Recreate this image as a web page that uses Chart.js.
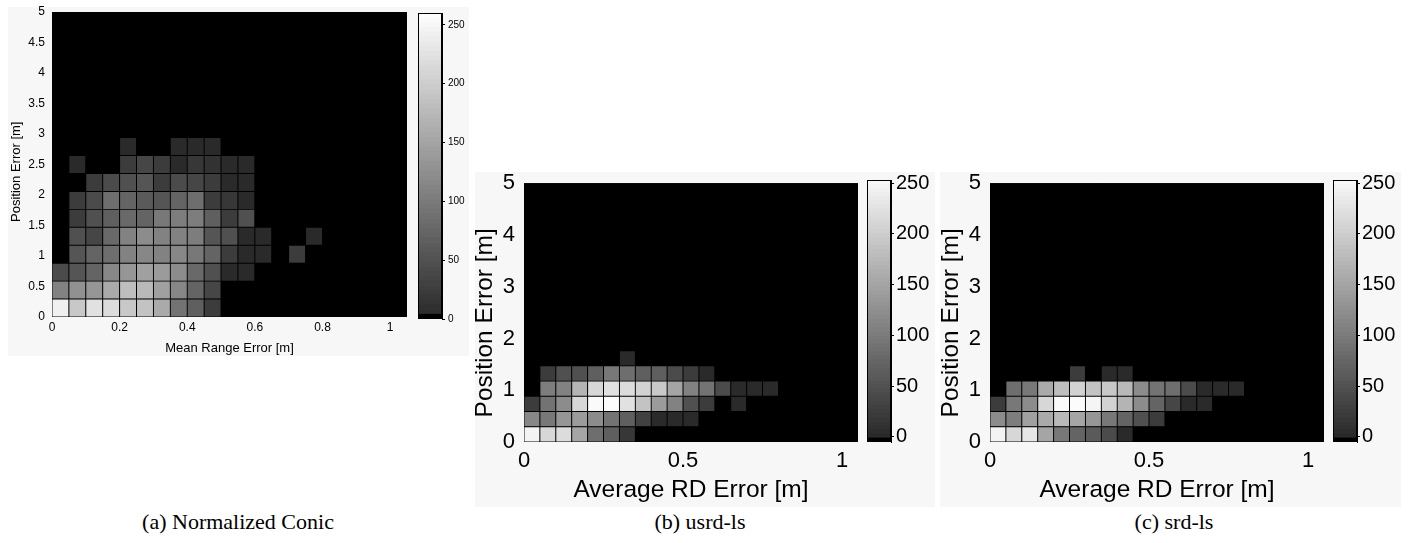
<!DOCTYPE html>
<html>
<head>
<meta charset="utf-8">
<title>Position error histograms</title>
<script src="https://cdn.jsdelivr.net/npm/chart.js@4.4.1/dist/chart.umd.min.js"></script>
<style>
  body { margin:0; width:1413px; height:543px; background:#fff; position:relative; overflow:hidden; }
  .panel { position:absolute; background:#f7f7f7; }
  canvas { position:absolute; }
  .cap { position:absolute; top:509px; width:300px; height:26px; line-height:26px; text-align:center;
         font-family:"Liberation Serif","Times New Roman",serif; font-size:22px; color:#000; white-space:nowrap; }
</style>
</head>
<body>
<div class="panel" style="left:8px;top:7px;width:461px;height:349px"></div>
<div class="panel" style="left:475px;top:172px;width:460px;height:335px"></div>
<div class="panel" style="left:940px;top:172px;width:461px;height:335px"></div>

<canvas id="heatA" width="409" height="370" style="left:8px;top:-8px"></canvas>
<canvas id="barA" width="54" height="346" style="left:418px;top:-7px"></canvas>
<canvas id="heatB" width="402" height="346" style="left:466px;top:161px"></canvas>
<canvas id="barB" width="68" height="302" style="left:867px;top:160px"></canvas>
<canvas id="heatC" width="402" height="346" style="left:932px;top:161px"></canvas>
<canvas id="barC" width="68" height="302" style="left:1333px;top:160px"></canvas>

<div class="cap" style="left:88px">(a) Normalized Conic</div>
<div class="cap" style="left:550px">(b) usrd-ls</div>
<div class="cap" style="left:1024px">(c) srd-ls</div>

<script>
// bins of the x axis (centres, 0.05 m wide)
const errBins = [0.025, 0.075, 0.125, 0.175, 0.225, 0.275, 0.325, 0.375, 0.425, 0.475, 0.525,
                 0.575, 0.625, 0.675, 0.725, 0.775, 0.825, 0.875, 0.925, 0.975, 1.025];
const binW = 0.05;
// position error goes 0..5 m in 17 rows
const posMax = 5;
const posRows = 17;

// counts per cell, row 0 = bottom row, rows not listed are empty
const conicCounts = [
  [242,193,224,218,193,187,157, 91, 67, 24,  0,  0,  0,  0,  0,  0,  0,  0,  0,  0,  0],
  [109,127,133,157,181,175,145,115, 73, 36,  0,  0,  0,  0,  0,  0,  0,  0,  0,  0,  0],
  [ 42, 54, 73,115,133,145,139,121, 79, 48,  3,  3,  0,  0,  0,  0,  0,  0,  0,  0,  0],
  [  0, 54, 73, 85,109,115,109,115, 97, 73, 24,  3,  3,  0, 24,  0,  0,  0,  0,  0,  0],
  [  0, 48, 36, 79,109,121,109,109,103, 54, 48,  3,  3,  0,  0,  3,  0,  0,  0,  0,  0],
  [  0, 24, 48, 67, 79, 73, 97,103,103, 67, 24, 48,  0,  0,  0,  0,  0,  0,  0,  0,  0],
  [  0, 24, 42, 85, 73, 60, 54, 73, 85, 24, 18,  3,  0,  0,  0,  0,  0,  0,  0,  0,  0],
  [  0,  0, 24, 42, 48, 54, 24, 42, 36, 24,  3,  3,  0,  0,  0,  0,  0,  0,  0,  0,  0],
  [  0,  3,  0,  0, 24, 36, 24,  3, 18, 12,  3,  3,  0,  0,  0,  0,  0,  0,  0,  0,  0],
  [  0,  0,  0,  0,  3,  0,  0,  3,  3,  3,  0,  0,  0,  0,  0,  0,  0,  0,  0,  0,  0]
];
const usrdCounts = [
  [245,212,218,151, 85, 67, 18,  0,  0,  0,  0,  0,  0,  0,  0,  0,  0,  0,  0,  0,  0],
  [115, 97,133,139,121, 91, 67, 30,  3,  3,  3,  0,  0,  0,  0,  0,  0,  0,  0,  0,  0],
  [ 24, 91,121,212,254,256,224,187,139,109, 48, 24,  0,  3,  0,  0,  0,  0,  0,  0,  0],
  [  0,103,109,169,212,224,218,206,193,151,109, 91, 42,  3,  3,  3,  0,  0,  0,  0,  0],
  [  0, 24, 48, 48, 67, 97, 85, 67, 67, 42, 24,  3,  0,  0,  0,  0,  0,  0,  0,  0,  0],
  [  0,  0,  0,  0,  0,  0,  3,  0,  0,  0,  0,  0,  0,  0,  0,  0,  0,  0,  0,  0,  0]
];
const srdCounts = [
  [245,212,230,151, 97, 73, 60, 42,  3,  0,  0,  0,  0,  0,  0,  0,  0,  0,  0,  0,  0],
  [121,103,145,157,175,151,133, 97, 73, 48, 24,  0,  0,  0,  0,  0,  0,  0,  0,  0,  0],
  [ 24, 97,121,212,254,256,248,206,169,121, 73, 36,  3,  3,  0,  0,  0,  0,  0,  0,  0],
  [  0, 85, 97,157,181,206,187,193,175,121, 91, 85, 42,  3,  3,  3,  0,  0,  0,  0,  0],
  [  0,  0,  0,  0,  0, 24,  0,  3,  3,  0,  0,  0,  0,  0,  0,  0,  0,  0,  0,  0,  0]
];

// tick labels
const xTicksA = [0, 0.2, 0.4, 0.6, 0.8, 1];
const yTicksA = [0, 0.5, 1, 1.5, 2, 2.5, 3, 3.5, 4, 4.5, 5];
const xTicksBC = [0, 0.5, 1];
const yTicksBC = [0, 1, 2, 3, 4, 5];
const cbarTicks = [0, 50, 100, 150, 200, 250];
const cbarRangeA = [0, 260];
const cbarRangeBC = [-5, 253];
const colorMax = 260;

const fam = '"Liberation Sans", Arial, Helvetica, sans-serif';
Chart.defaults.font.family = fam;
Chart.defaults.color = '#000';

// gray colormap: 0 = black, then dark gray up to white
function grayOf(v) {
  if (v <= 0) return 'rgb(0,0,0)';
  const g = Math.round(40 + 215 * Math.min(v, colorMax) / colorMax);
  return 'rgb(' + g + ',' + g + ',' + g + ')';
}

const blackBack = {
  id: 'blackBack',
  beforeDatasetsDraw(chart) {
    const { ctx, chartArea: a } = chart;
    ctx.save();
    ctx.fillStyle = '#000';
    ctx.fillRect(a.left, a.top, a.right - a.left, a.bottom - a.top);
    ctx.restore();
  }
};

const frame = {
  id: 'frame',
  afterDatasetsDraw(chart) {
    const { ctx, chartArea: a } = chart;
    ctx.save();
    ctx.strokeStyle = '#000';
    ctx.lineWidth = 1;
    ctx.strokeRect(Math.round(a.left) + 0.5, Math.round(a.top) + 0.5,
                   Math.round(a.right - a.left) - 1, Math.round(a.bottom - a.top) - 1);
    ctx.restore();
  }
};

function fixTicks(list) {
  return s => { s.ticks = list.map(v => ({ value: v })); };
}

function makeHeat(id, counts, cfg) {
  const rowH = posMax / posRows;
  const datasets = [];
  for (let r = 0; r < posRows; r++) {
    const row = counts[r] || [];
    datasets.push({
      xAxisID: 'x',
      yAxisID: 'y',
      data: errBins.map(() => [r * rowH, (r + 1) * rowH]),
      backgroundColor: errBins.map((b, c) => grayOf(row[c] || 0)),
      borderColor: '#000',
      borderWidth: cfg.border,
      borderSkipped: false,
      grouped: false,
      barPercentage: 1,
      categoryPercentage: 1
    });
  }
  new Chart(document.getElementById(id), {
    type: 'bar',
    data: { labels: errBins, datasets: datasets },
    options: {
      responsive: false,
      animation: false,
      events: [],
      layout: { padding: { top: 20, right: 10, left: 0, bottom: 0 } },
      plugins: { legend: { display: false }, tooltip: { enabled: false } },
      scales: {
        x: { type: 'category', display: false, offset: true },
        xt: {
          type: 'linear', position: 'bottom', min: 0, max: errBins.length * binW,
          offset: false,
          afterBuildTicks: fixTicks(cfg.xTicks),
          grid: { display: false, drawTicks: false, offset: false },
          border: { display: false },
          ticks: { font: { size: cfg.tick }, color: '#000', padding: cfg.xPad,
                   maxRotation: 0, autoSkip: false, callback: v => String(v) },
          title: { display: true, text: cfg.xTitle, color: '#000', font: { size: cfg.title },
                   padding: { top: 0, bottom: cfg.xTitlePad } },
          afterFit: s => { s.height = cfg.xH; }
        },
        y: {
          type: 'linear', min: 0, max: posMax,
          afterBuildTicks: fixTicks(cfg.yTicks),
          grid: { display: false, drawTicks: false },
          border: { display: false },
          ticks: { font: { size: cfg.tick }, color: '#000', padding: cfg.yPad,
                   autoSkip: false, callback: v => String(v) },
          // trailing spaces push the label a little below the axis centre, as in the figure
          title: { display: true, text: 'Position Error [m]' + cfg.yTitleTail, color: '#000',
                   font: { size: cfg.title }, padding: { top: cfg.yTitlePad, bottom: 0 } },
          afterFit: s => { s.width = cfg.yW; }
        }
      }
    },
    plugins: [blackBack]
  });
}

function makeCbar(id, range, cfg) {
  const n = 64;
  const step = (range[1] - range[0]) / n;
  const datasets = [];
  for (let k = 0; k < n; k++) {
    const lo = range[0] + k * step;
    datasets.push({
      data: [[lo, lo + step]],
      backgroundColor: k === 0 ? 'rgb(0,0,0)' : grayOf(lo + step / 2),
      borderWidth: 0,
      grouped: false,
      barPercentage: 1,
      categoryPercentage: 1
    });
  }
  new Chart(document.getElementById(id), {
    type: 'bar',
    data: { labels: ['c'], datasets: datasets },
    options: {
      responsive: false,
      animation: false,
      events: [],
      layout: { padding: { top: 20, right: 0, left: 0, bottom: 20 } },
      plugins: { legend: { display: false }, tooltip: { enabled: false } },
      scales: {
        x: { display: false },
        y: {
          position: 'right', min: range[0], max: range[1],
          afterBuildTicks: fixTicks(cbarTicks),
          grid: { display: true, drawOnChartArea: false, drawTicks: true, tickLength: 3, color: '#000' },
          border: { display: true, color: '#000' },
          ticks: { font: { size: cfg.tick }, color: '#000', padding: cfg.pad, callback: v => String(v) },
          afterFit: s => { s.width = cfg.w; }
        }
      }
    },
    plugins: [frame]
  });
}

makeHeat('heatA', conicCounts, {
  xTicks: xTicksA, yTicks: yTicksA, xTitle: 'Mean Range Error [m]',
  tick: 12, title: 13, border: 0.8,
  xPad: 3, xTitlePad: 6, xH: 45, yPad: 7, yTitlePad: 1, yW: 44, yTitleTail: '    '
});
makeCbar('barA', cbarRangeA, { tick: 10, pad: 3, w: 30 });

makeHeat('heatB', usrdCounts, {
  xTicks: xTicksBC, yTicks: yTicksBC, xTitle: 'Average RD Error [m]',
  tick: 22, title: 24.5, border: 0.8,
  xPad: 6, xTitlePad: 2, xH: 65, yPad: 9, yTitlePad: 5, yW: 58, yTitleTail: '   '
});
makeCbar('barB', cbarRangeBC, { tick: 20, pad: 2, w: 44 });

makeHeat('heatC', srdCounts, {
  xTicks: xTicksBC, yTicks: yTicksBC, xTitle: 'Average RD Error [m]',
  tick: 22, title: 24.5, border: 0.8,
  xPad: 6, xTitlePad: 2, xH: 65, yPad: 9, yTitlePad: 5, yW: 58, yTitleTail: '   '
});
makeCbar('barC', cbarRangeBC, { tick: 20, pad: 2, w: 44 });
</script>
</body>
</html>
